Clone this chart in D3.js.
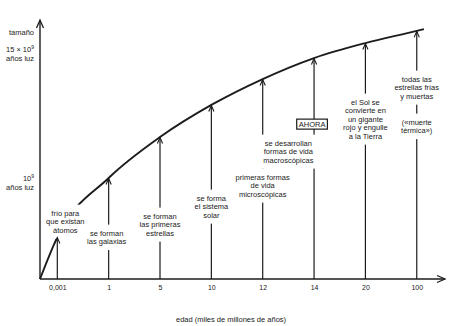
<!DOCTYPE html>
<html>
<head>
<meta charset="utf-8">
<script src="https://cdn.jsdelivr.net/npm/d3@7"></script>
<style>
  body { margin: 0; background: #fff; }
  text { font-family: "Liberation Sans", Arial, sans-serif; fill: #222; }
</style>
</head>
<body>
<script>
// ages on the time axis (miles de millones de años)
var categories = ["0,001", "1", "5", "10", "12", "14", "20", "100"];
// size of the universe at each arrow tip (relative units)
var sizes = [16.2, 39, 54.8, 67.2, 77.2, 85.3, 91.1, 95.8];
// end of the curve past the last arrow
var curveEndSize = 96.5;
// events written on each arrow
var events = [
    ["frío para", "que existan", "átomos"],
    ["se forman", "las galaxias"],
    ["se forman", "las primeras", "estrellas"],
    ["se forma", "el sistema", "solar"],
    ["primeras formas", "de vida", "microscópicas"],
    ["AHORA"],
    ["el Sol se", "convierte en", "un gigante", "rojo y engulle", "a la Tierra"],
    ["todas las", "estrellas frías", "y muertas"]
];
var extraEvents = [
    { at: 4.5, lines: ["se desarrollan", "formas de vida", "macroscópicas"] },
    { at: 7, lines: ["(«muerte", "térmica»)"] }
];
// y axis marks
var yTickValues = [37.3, 87.3];
var yTickLabels = [["10", "años luz"], ["15 × 10", "años luz"]];

var svgWidth = 450, svgHeight = 326;
var ink = "#1c1c1c";

var svg = d3.select("body").append("svg")
    .attr("width", svgWidth)
    .attr("height", svgHeight);

var defs = svg.append("defs");
defs.append("marker")
    .attr("id", "tip")
    .attr("markerUnits", "userSpaceOnUse")
    .attr("viewBox", "-8 -4 10 8")
    .attr("refX", 0).attr("refY", 0)
    .attr("markerWidth", 10).attr("markerHeight", 8)
    .attr("orient", "auto")
    .append("path")
    .attr("d", "M-6,-2.6L0,0L-6,2.6")
    .attr("fill", "none").attr("stroke", ink).attr("stroke-width", 1.1);
defs.append("marker")
    .attr("id", "axisTip")
    .attr("markerUnits", "userSpaceOnUse")
    .attr("viewBox", "-10 -5 12 10")
    .attr("refX", 0).attr("refY", 0)
    .attr("markerWidth", 12).attr("markerHeight", 10)
    .attr("orient", "auto")
    .append("path")
    .attr("d", "M-8,-3.5L0,0L-8,3.5")
    .attr("fill", "none").attr("stroke", ink).attr("stroke-width", 1.3);

// x: arrow index, y: size
var x = d3.scaleLinear().domain([-0.337, 7.55]).range([40, 445]);
var y = d3.scaleLinear().domain([0, 100]).range([279, 20]);

var pts = [[x.domain()[0], 0]];
sizes.forEach(function(s, i) { pts.push([i, s]); });
pts.push([7.14, curveEndSize]);

// label layout: center of first line (px), x shift, vertical padding of the white gap
var labelTop = [213, 233, 216, 198, 177, 124, 102, 79];
var labelShift = [8, -2, 0, 0, 0, -2, 0, 0];
var labelPad = [4, 4, 4, 4, 4, 0.5, 4, 4];
var extraTop = [143, 122];
var lineGap = 8.5;

var gCurve = svg.append("g");
var gFirst = svg.append("g");
var gArrows = svg.append("g");
var gLabels = svg.append("g");

function drawLabel(parent, cx, top, lines, pad, boxed) {
    var g = parent.append("g");
    var t = g.append("text")
        .attr("text-anchor", "middle")
        .attr("font-size", 7.5);
    lines.forEach(function(s, j) {
        t.append("tspan")
            .attr("x", cx)
            .attr("y", top + j * lineGap)
            .attr("dy", "0.35em")
            .text(s);
    });
    var b = t.node().getBBox();
    g.insert("rect", "text")
        .attr("x", b.x - 2).attr("y", b.y - pad)
        .attr("width", b.width + 4).attr("height", b.height + 2 * pad)
        .attr("fill", "#fff")
        .attr("stroke", boxed ? ink : "none")
        .attr("stroke-width", 1.2);
}

// curve
var line = d3.line()
    .x(function(d) { return x(d[0]); })
    .y(function(d) { return y(d[1]); })
    .curve(d3.curveMonotoneX);
gCurve.append("path").datum(pts)
    .attr("fill", "none")
    .attr("stroke", ink)
    .attr("stroke-width", 1.9)
    .attr("d", line);

// vertical arrows
gArrows.selectAll("line")
    .data(sizes)
    .enter().append("line")
    .attr("x1", function(d, i) { return x(i); })
    .attr("x2", function(d, i) { return x(i); })
    .attr("y1", y(0))
    .attr("y2", function(d) { return y(d) + 0.5; })
    .attr("stroke", ink)
    .attr("stroke-width", 1.2)
    .attr("marker-end", "url(#tip)");

events.forEach(function(lines, i) {
    drawLabel(i === 0 ? gFirst : gLabels, x(i) + labelShift[i], labelTop[i], lines,
        labelPad[i], lines[0] === "AHORA");
});
extraEvents.forEach(function(e, k) {
    drawLabel(gLabels, x(e.at), extraTop[k], e.lines, 4, false);
});

// axes
svg.append("line")
    .attr("x1", x.range()[0]).attr("x2", x.range()[0])
    .attr("y1", y(0)).attr("y2", y(100))
    .attr("stroke", ink).attr("stroke-width", 1.4)
    .attr("marker-end", "url(#axisTip)");
svg.append("line")
    .attr("x1", x.range()[0]).attr("x2", x.range()[1])
    .attr("y1", y(0)).attr("y2", y(0))
    .attr("stroke", ink).attr("stroke-width", 1.4)
    .attr("marker-end", "url(#axisTip)");

var xAxis = svg.append("g")
    .attr("transform", "translate(0," + y(0) + ")")
    .call(d3.axisBottom(x)
        .tickValues(d3.range(categories.length))
        .tickFormat(function(i) { return categories[i]; })
        .tickSize(0).tickPadding(6));
xAxis.select(".domain").remove();
xAxis.selectAll("text")
    .attr("font-family", "Liberation Sans, Arial, sans-serif")
    .attr("font-size", 7).attr("fill", "#222");

svg.append("text")
    .attr("x", 176).attr("y", 321.5)
    .attr("font-size", 7.5)
    .text("edad (miles de millones de años)");

// y labels
svg.append("text")
    .attr("x", 34).attr("y", y(95))
    .attr("text-anchor", "end").attr("dominant-baseline", "central")
    .attr("font-size", 7.5)
    .text("tamaño");
yTickValues.forEach(function(v, k) {
    var t = svg.append("text")
        .attr("text-anchor", "end")
        .attr("font-size", 7.5);
    var l1 = t.append("tspan").attr("x", 34).attr("y", y(v) - 1);
    l1.append("tspan").text(yTickLabels[k][0]);
    l1.append("tspan").attr("dy", -3).attr("font-size", 5).text("9");
    t.append("tspan").attr("x", 34).attr("y", y(v) + 8).text(yTickLabels[k][1]);
});
</script>
</body>
</html>
